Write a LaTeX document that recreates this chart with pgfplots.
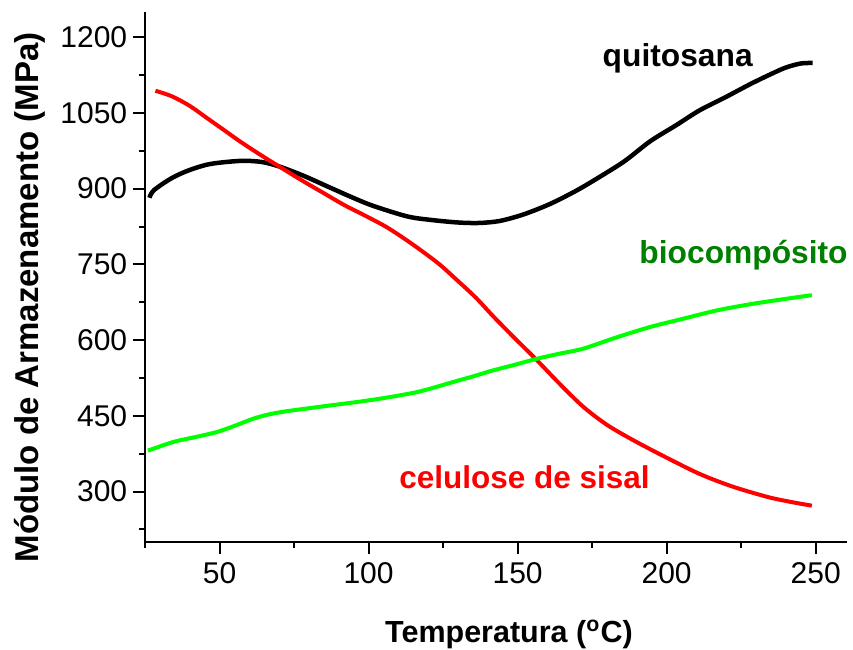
\documentclass[border=0pt]{standalone}
\usepackage{fontspec}
\setmainfont{Liberation Sans}
\usepackage{pgfplots}
\pgfplotsset{compat=1.18}
\definecolor{mygreen}{RGB}{0,255,0}
\definecolor{darkgreen}{RGB}{0,128,0}
\definecolor{myred}{RGB}{255,0,0}
\begin{document}
\begin{tikzpicture}
\useasboundingbox (-58pt,-43.2pt) rectangle (283.2pt,216.8pt);
\begin{axis}[
 scale only axis, width=280.8pt, height=212pt,
 xmin=25, xmax=260.5, ymin=200, ymax=1250,
 axis x line*=bottom, axis y line*=left,
 x axis line style={-}, y axis line style={-},
 axis line style={line width=0.8pt},
 xtick={50,100,150,200,250}, ytick={300,450,...,1200},
 minor xtick={25,75,125,175,225}, minor ytick={225,375,...,1125},
 tick align=outside, major tick length=4.8pt, minor tick length=2.4pt,
 every tick/.style={black, line width=0.8pt},
 tick label style={font=\fontsize{12}{14}\selectfont},
 yticklabel style={xshift=1.2pt},
 /pgf/number format/assume math mode=true,
 /pgf/number format/1000 sep={},
 xlabel={Temperatura (\textsuperscript{o}C)},
 ylabel={Módulo de Armazenamento (MPa)},
 xlabel style={font=\fontsize{12.2}{14}\selectfont\bfseries, at={(axis description cs:0.5185,-0.1887)}, anchor=base},
 ylabel style={font=\fontsize{13.2}{15}\selectfont\bfseries, at={(axis description cs:-0.1524,0.4613)}, anchor=base},
 clip=false,
]
% quitosana
\addplot[black, line width=1.8pt, smooth] coordinates {
(26.5,882) (28,897) (34,921) (40,937) (47,949) (57,955) (64,953) (70,944) (78,926) (86,905) (94,884) (101.5,866) (113,845) (121,838) (130,833) (137,832) (144,836) (152,849) (161,870) (170,897) (178,925) (186,955) (194.5,994) (203,1025) (211,1055) (220,1082) (228,1107) (235,1127) (240,1140) (245,1148) (249,1149)
};
% celulose de sisal
\addplot[myred, line width=1.6pt, smooth] coordinates {
(28.5,1094) (34,1083) (40,1064) (46,1039) (52,1014) (57,993) (64,966) (70,944) (78,915) (85,891) (92,867) (100,843) (106,824) (112,801) (118,776) (124,749) (130,717) (136,684) (142,646) (149,604) (156.5,560) (164,514) (172,468) (180,432) (189,401) (200,367) (211,335) (222,310) (234,289) (242,279) (248.7,272)
};
% biocompósito
\addplot[mygreen, line width=1.6pt, smooth] coordinates {
(26,381) (34.4,398) (42,408) (49.2,418) (55,430) (61.2,444) (66,452) (71.3,458) (80,465) (90.4,473) (97,478) (103.9,484) (110,490) (116.3,497) (122,506) (128.4,517) (135,528) (141.8,540) (149,551) (156.5,563) (164,573) (172,583) (183,605) (194.5,626) (206,643) (217,659) (228,671) (238,680) (248.7,689)
};
\node[anchor=base, font=\fontsize{12.7}{15}\selectfont\bfseries, text=black] at (axis cs:203.7,1143) {quitosana};
\node[anchor=base, font=\fontsize{12.7}{15}\selectfont\bfseries, text=darkgreen] at (axis cs:225.8,752) {biocompósito};
\node[anchor=base, font=\fontsize{12.6}{15}\selectfont\bfseries, text=myred] at (axis cs:152.3,305) {celulose de sisal};
\end{axis}
\end{tikzpicture}
\end{document}
